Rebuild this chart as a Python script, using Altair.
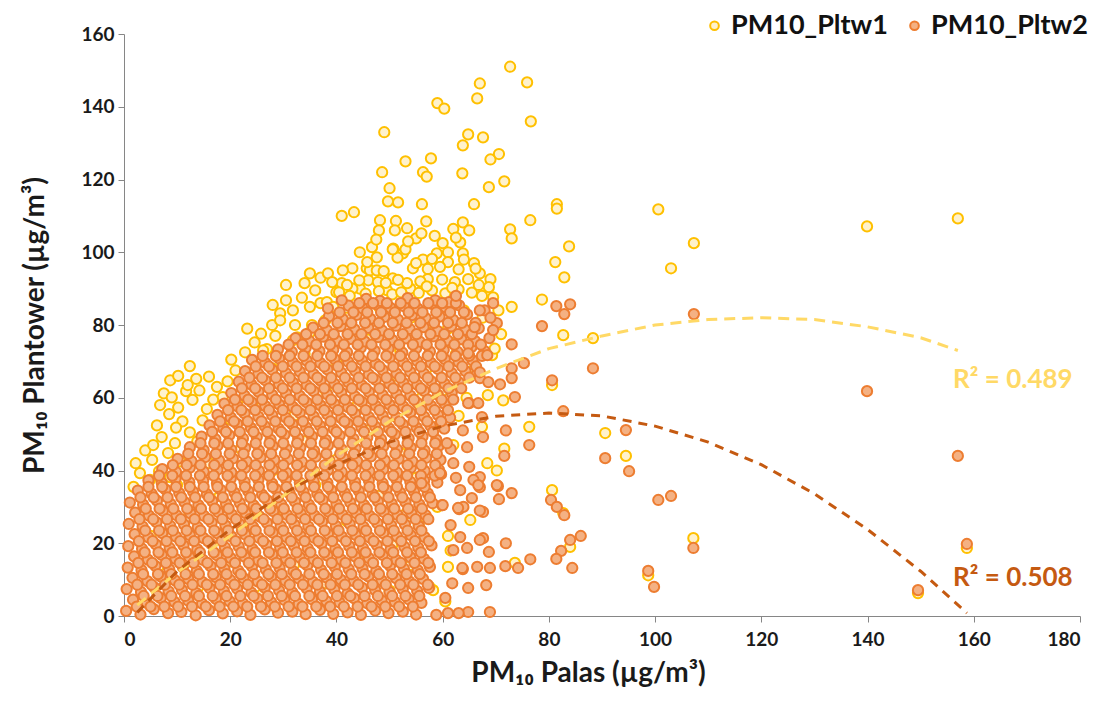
import altair as alt
import pandas as pd

# ---- scatter values (PM10 Palas, PM10 Plantower) ----
# PM10_Pltw2, dense cloud, one line per band of Plantower values
pltw2_rows = [
    ([0.4, 3.1, 5.6, 8.3, 10.8, 13.5, 16.0, 18.6, 21.3, 23.8, 26.5, 29.0, 31.7, 34.2, 36.9, 39.4, 42.1, 44.6, 47.3, 49.8, 52.5, 55.0],
     [1.4, 0.4, 1.9, 0.8, 1.1, 0.2, 1.6, 0.7, 1.3, 0.3, 1.8, 0.9, 1.2, 0.5, 1.7, 0.6, 1.0, 0.3, 1.5, 0.8, 1.2, 0.4]),
    ([1.7, 4.3, 6.9, 9.5, 12.1, 14.7, 17.3, 19.9, 22.4, 25.1, 27.7, 30.2, 32.9, 35.4, 38.1, 40.6, 43.3, 45.8, 48.5, 51.0, 53.6, 56.0],
     [4.5, 3.6, 4.9, 3.9, 4.2, 3.4, 4.7, 4.0, 3.5, 4.8, 3.8, 4.4, 3.3, 4.6, 4.1, 3.7, 4.9, 3.5, 4.3, 3.9, 4.6, 3.6]),
    ([0.5, 3.2, 5.7, 8.4, 10.9, 13.6, 16.1, 18.8, 21.3, 24.0, 26.5, 29.2, 31.7, 34.4, 36.9, 39.6, 42.1, 44.8, 47.3, 50.0, 52.5, 55.2, 57.4],
     [7.4, 6.6, 7.9, 6.8, 7.2, 6.3, 7.7, 6.9, 7.5, 6.4, 7.8, 7.0, 6.5, 7.6, 6.7, 7.3, 6.2, 7.8, 7.1, 6.6, 7.4, 6.9, 7.7]),
    ([1.6, 4.4, 6.9, 9.6, 12.1, 14.8, 17.3, 20.0, 22.5, 25.2, 27.7, 30.4, 32.9, 35.6, 38.1, 40.8, 43.3, 46.0, 48.5, 51.2, 53.7, 56.3],
     [10.5, 9.6, 10.9, 9.8, 10.2, 9.3, 10.7, 9.9, 10.4, 9.5, 10.8, 9.7, 10.3, 9.4, 10.6, 10.0, 9.6, 10.9, 9.8, 10.4, 9.5, 10.2]),
    ([0.7, 3.3, 5.9, 8.5, 11.1, 13.7, 16.3, 18.9, 21.5, 24.1, 26.7, 29.3, 31.9, 34.5, 37.1, 39.7, 42.3, 44.9, 47.5, 50.1, 52.7, 55.3, 57.6],
     [13.3, 12.6, 13.8, 12.9, 13.4, 12.4, 13.7, 13.0, 12.5, 13.6, 12.8, 13.2, 12.3, 13.9, 12.7, 13.5, 12.9, 13.1, 12.4, 13.8, 13.0, 12.6, 13.5]),
    ([1.9, 4.5, 7.1, 9.7, 12.3, 14.9, 17.5, 20.1, 22.7, 25.3, 27.9, 30.5, 33.1, 35.7, 38.3, 40.9, 43.5, 46.1, 48.7, 51.3, 53.9, 56.5],
     [16.4, 15.5, 16.8, 15.7, 16.2, 15.4, 16.7, 15.9, 16.3, 15.3, 16.9, 15.8, 16.1, 15.6, 16.6, 15.5, 16.4, 15.9, 16.8, 15.4, 16.2, 15.7]),
    ([0.8, 3.4, 6.0, 8.6, 11.2, 13.8, 16.4, 19.0, 21.6, 24.2, 26.8, 29.4, 32.0, 34.6, 37.2, 39.8, 42.4, 45.0, 47.6, 50.2, 52.8, 55.4, 57.9],
     [19.2, 18.5, 19.7, 18.7, 19.4, 18.3, 19.8, 18.9, 19.1, 18.4, 19.6, 18.8, 19.3, 18.6, 19.9, 18.5, 19.2, 18.7, 19.5, 18.3, 19.0, 18.8, 19.4]),
    ([2.0, 4.6, 7.2, 9.8, 12.4, 15.0, 17.6, 20.2, 22.8, 25.4, 28.0, 30.6, 33.2, 35.8, 38.4, 41.0, 43.6, 46.2, 48.8, 51.4, 54.0, 56.6],
     [22.5, 21.6, 22.8, 21.8, 22.2, 21.4, 22.7, 21.9, 22.4, 21.5, 22.9, 21.7, 22.1, 21.5, 22.6, 21.8, 22.3, 21.6, 22.8, 21.9, 22.2, 21.7]),
    ([0.9, 3.5, 6.1, 8.7, 11.3, 13.9, 16.5, 19.1, 21.7, 24.3, 26.9, 29.5, 32.1, 34.7, 37.3, 39.9, 42.5, 45.1, 47.7, 50.3, 52.9, 55.5],
     [25.3, 24.6, 25.8, 24.8, 25.2, 24.4, 25.7, 24.9, 25.4, 24.5, 25.6, 24.7, 25.1, 24.6, 25.9, 24.8, 25.3, 24.5, 25.5, 24.9, 25.2, 24.7]),
    ([2.1, 4.7, 7.3, 9.9, 12.5, 15.1, 17.7, 20.3, 22.9, 25.5, 28.1, 30.7, 33.3, 35.9, 38.5, 41.1, 43.7, 46.3, 48.9, 51.5, 54.1, 56.8],
     [28.4, 27.6, 28.9, 27.7, 28.2, 27.5, 28.6, 27.9, 28.3, 27.4, 28.8, 27.8, 28.1, 27.6, 28.7, 27.9, 28.3, 27.5, 28.6, 27.8, 28.2, 27.7]),
    ([1.1, 3.6, 6.2, 8.8, 11.4, 14.0, 16.6, 19.2, 21.8, 24.4, 27.0, 29.6, 32.2, 34.8, 37.4, 40.0, 42.6, 45.2, 47.8, 50.4, 53.0, 55.6, 58.1],
     [31.2, 30.6, 31.7, 30.8, 31.3, 30.5, 31.6, 30.9, 31.1, 30.4, 31.8, 30.7, 31.4, 30.6, 31.9, 30.8, 31.2, 30.5, 31.5, 30.9, 31.3, 30.7, 31.0]),
    ([2.6, 5.2, 7.8, 10.4, 13.0, 15.6, 18.2, 20.8, 23.4, 26.0, 28.6, 31.2, 33.8, 36.4, 39.0, 41.6, 44.2, 46.8, 49.4, 52.0, 54.6, 57.2],
     [34.5, 33.6, 34.8, 33.8, 34.2, 33.5, 34.7, 33.9, 34.3, 33.4, 34.9, 33.7, 34.1, 33.6, 34.6, 33.8, 34.4, 33.5, 34.7, 33.9, 34.2, 33.7]),
    ([4.6, 7.1, 9.7, 12.3, 14.9, 17.5, 20.1, 22.7, 25.3, 27.9, 30.5, 33.1, 35.7, 38.3, 40.9, 43.5, 46.1, 48.7, 51.3, 53.9, 56.5, 59.0],
     [37.3, 36.6, 37.7, 36.8, 37.2, 36.5, 37.8, 36.9, 37.4, 36.4, 37.6, 36.7, 37.1, 36.6, 37.9, 36.8, 37.3, 36.5, 37.5, 36.9, 37.2, 36.7]),
    ([7.2, 9.8, 12.4, 15.0, 17.6, 20.2, 22.8, 25.4, 28.0, 30.6, 33.2, 35.8, 38.4, 41.0, 43.6, 46.2, 48.8, 51.4, 54.0, 56.6, 59.3],
     [40.4, 39.6, 40.8, 39.7, 40.2, 39.5, 40.7, 39.9, 40.3, 39.4, 40.9, 39.8, 40.1, 39.6, 40.6, 39.8, 40.3, 39.5, 40.7, 39.9, 40.2]),
    ([10.1, 12.7, 15.3, 17.9, 20.5, 23.1, 25.7, 28.3, 30.9, 33.5, 36.1, 38.7, 41.3, 43.9, 46.5, 49.1, 51.7, 54.3, 56.9, 59.6],
     [43.2, 42.6, 43.7, 42.8, 43.3, 42.5, 43.6, 42.9, 43.1, 42.4, 43.8, 42.7, 43.4, 42.6, 43.9, 42.8, 43.2, 42.5, 43.5, 42.9]),
    ([12.4, 15.0, 17.6, 20.2, 22.8, 25.4, 28.0, 30.6, 33.2, 35.8, 38.4, 41.0, 43.6, 46.2, 48.8, 51.4, 54.0, 56.6, 59.2, 61.5],
     [46.4, 45.6, 46.8, 45.7, 46.2, 45.5, 46.7, 45.9, 46.3, 45.4, 46.9, 45.8, 46.1, 45.6, 46.6, 45.8, 46.3, 45.5, 46.7, 45.9]),
    ([14.6, 17.2, 19.8, 22.4, 25.0, 27.6, 30.2, 32.8, 35.4, 38.0, 40.6, 43.2, 45.8, 48.4, 51.0, 53.6, 56.2, 58.8],
     [49.3, 48.6, 49.7, 48.8, 49.2, 48.5, 49.8, 48.9, 49.4, 48.4, 49.6, 48.7, 49.1, 48.6, 49.9, 48.8, 49.3, 48.5]),
    ([16.1, 18.7, 21.3, 23.9, 26.5, 29.1, 31.7, 34.3, 36.9, 39.5, 42.1, 44.7, 47.3, 49.9, 52.5, 55.1, 57.7, 60.3],
     [52.4, 51.6, 52.8, 51.7, 52.2, 51.5, 52.7, 51.9, 52.3, 51.4, 52.9, 51.8, 52.1, 51.6, 52.6, 51.8, 52.3, 51.5]),
    ([17.6, 20.1, 22.7, 25.3, 27.9, 30.5, 33.1, 35.7, 38.3, 40.9, 43.5, 46.1, 48.7, 51.3, 53.9, 56.5, 59.1, 61.4],
     [55.3, 54.6, 55.7, 54.8, 55.2, 54.5, 55.8, 54.9, 55.4, 54.4, 55.6, 54.7, 55.1, 54.6, 55.9, 54.8, 55.3, 54.5]),
    ([18.9, 21.4, 24.0, 26.6, 29.2, 31.8, 34.4, 37.0, 39.6, 42.2, 44.8, 47.4, 50.0, 52.6, 55.2, 57.8, 60.4],
     [58.4, 57.6, 58.8, 57.7, 58.2, 57.5, 58.7, 57.9, 58.3, 57.4, 58.9, 57.8, 58.1, 57.6, 58.6, 57.8, 58.3]),
    ([20.2, 22.7, 25.3, 27.9, 30.5, 33.1, 35.7, 38.3, 40.9, 43.5, 46.1, 48.7, 51.3, 53.9, 56.5, 59.1, 61.7],
     [61.3, 60.6, 61.7, 60.8, 61.2, 60.5, 61.8, 60.9, 61.4, 60.4, 61.6, 60.7, 61.1, 60.6, 61.9, 60.8, 61.3]),
    ([21.6, 24.0, 26.6, 29.2, 31.8, 34.4, 37.0, 39.6, 42.2, 44.8, 47.4, 50.0, 52.6, 55.2, 57.8, 60.4, 63.0],
     [64.4, 63.6, 64.8, 63.7, 64.2, 63.5, 64.7, 63.9, 64.3, 63.4, 64.9, 63.8, 64.1, 63.6, 64.6, 63.8, 64.3]),
    ([22.8, 25.3, 27.9, 30.5, 33.1, 35.7, 38.3, 40.9, 43.5, 46.1, 48.7, 51.3, 53.9, 56.5, 59.1, 61.7, 64.3, 66.5],
     [67.3, 66.6, 67.7, 66.8, 67.2, 66.5, 67.8, 66.9, 67.4, 66.4, 67.6, 66.7, 67.1, 66.6, 67.9, 66.8, 67.3, 66.5]),
    ([24.1, 26.6, 29.2, 31.8, 34.4, 37.0, 39.6, 42.2, 44.8, 47.4, 50.0, 52.6, 55.2, 57.8, 60.4, 63.0, 65.6],
     [70.4, 69.6, 70.8, 69.7, 70.2, 69.5, 70.7, 69.9, 70.3, 69.4, 70.9, 69.8, 70.1, 69.6, 70.6, 69.8, 70.3]),
    ([29.0, 31.6, 34.2, 36.8, 39.4, 42.0, 44.6, 47.2, 49.8, 52.4, 55.0, 57.6, 60.2, 62.8, 65.4, 67.9],
     [73.3, 72.6, 73.7, 72.8, 73.2, 72.5, 73.8, 72.9, 73.4, 72.4, 73.6, 72.7, 73.1, 72.6, 73.9, 72.8]),
    ([32.3, 34.9, 37.5, 40.1, 42.7, 45.3, 47.9, 50.5, 53.1, 55.7, 58.3, 60.9, 63.5, 66.1],
     [76.4, 75.6, 76.8, 75.7, 76.2, 75.5, 76.7, 75.9, 76.3, 75.4, 76.9, 75.8, 76.1, 75.6]),
    ([35.6, 38.2, 40.8, 43.4, 46.0, 48.6, 51.2, 53.8, 56.4, 59.0, 61.6, 64.2, 66.8],
     [79.3, 78.6, 79.7, 78.8, 79.2, 78.5, 79.8, 78.9, 79.4, 78.4, 79.6, 78.7, 79.1]),
    ([38.6, 41.2, 43.8, 46.4, 49.0, 51.6, 54.2, 56.8, 59.4, 62.0, 64.6],
     [82.4, 81.6, 82.8, 81.7, 82.2, 81.5, 82.7, 81.9, 82.3, 81.4, 82.9]),
    ([42.3, 44.9, 47.5, 50.1, 52.7, 55.3, 57.9, 60.5, 63.1],
     [85.3, 84.6, 85.7, 84.8, 85.2, 84.5, 85.8, 84.9, 85.4]),
    ([45.6, 48.2, 53.4, 58.6, 61.2],
     [87.2, 86.6, 87.4, 86.8, 86.3]),
]

# PM10_Pltw2, the points that sit between the bands above (Plantower value, Palas values)
pltw2_between = [
    (2.6, [2.4, 5.0, 7.6, 10.2, 12.8, 15.4, 18.0, 20.6, 23.2, 25.8, 28.4, 31.0, 33.6, 36.2, 38.8, 41.4, 44.0, 46.6, 49.2, 51.8, 54.4]),
    (5.5, [3.7, 6.3, 8.9, 11.5, 14.1, 16.7, 19.3, 21.9, 24.4, 27.1, 29.7, 32.2, 34.9, 37.4, 40.1, 42.6, 45.3, 47.8, 50.5, 53.0, 55.6]),
    (8.6, [2.5, 5.2, 7.7, 10.4, 12.9, 15.6, 18.1, 20.8, 23.3, 26.0, 28.5, 31.2, 33.7, 36.4, 38.9, 41.6, 44.1, 46.8, 49.3, 52.0, 54.5, 57.2]),
    (11.5, [3.6, 6.4, 8.9, 11.6, 14.1, 16.8, 19.3, 22.0, 24.5, 27.2, 29.7, 32.4, 34.9, 37.6, 40.1, 42.8, 45.3, 48.0, 50.5, 53.2, 55.7]),
    (14.6, [2.7, 5.3, 7.9, 10.5, 13.1, 15.7, 18.3, 20.9, 23.5, 26.1, 28.7, 31.3, 33.9, 36.5, 39.1, 41.7, 44.3, 46.9, 49.5, 52.1, 54.7, 57.3]),
    (17.5, [3.9, 6.5, 9.1, 11.7, 14.3, 16.9, 19.5, 22.1, 24.7, 27.3, 29.9, 32.5, 35.1, 37.7, 40.3, 42.9, 45.5, 48.1, 50.7, 53.3, 55.9]),
    (20.6, [2.8, 5.4, 8.0, 10.6, 13.2, 15.8, 18.4, 21.0, 23.6, 26.2, 28.8, 31.4, 34.0, 36.6, 39.2, 41.8, 44.4, 47.0, 49.6, 52.2, 54.8, 57.4]),
    (23.5, [4.0, 6.6, 9.2, 11.8, 14.4, 17.0, 19.6, 22.2, 24.8, 27.4, 30.0, 32.6, 35.2, 37.8, 40.4, 43.0, 45.6, 48.2, 50.8, 53.4, 56.0]),
    (26.6, [2.9, 5.5, 8.1, 10.7, 13.3, 15.9, 18.5, 21.1, 23.7, 26.3, 28.9, 31.5, 34.1, 36.7, 39.3, 41.9, 44.5, 47.1, 49.7, 52.3, 54.9, 57.3]),
    (29.5, [4.1, 6.7, 9.3, 11.9, 14.5, 17.1, 19.7, 22.3, 24.9, 27.5, 30.1, 32.7, 35.3, 37.9, 40.5, 43.1, 45.7, 48.3, 50.9, 53.5, 56.1]),
    (32.6, [3.1, 5.6, 8.2, 10.8, 13.4, 16.0, 18.6, 21.2, 23.8, 26.4, 29.0, 31.6, 34.2, 36.8, 39.4, 42.0, 44.6, 47.2, 49.8, 52.4, 55.0, 57.6]),
    (35.5, [4.6, 7.2, 9.8, 12.4, 15.0, 17.6, 20.2, 22.8, 25.4, 28.0, 30.6, 33.2, 35.8, 38.4, 41.0, 43.6, 46.2, 48.8, 51.4, 54.0, 56.6]),
    (38.6, [6.6, 9.1, 11.7, 14.3, 16.9, 19.5, 22.1, 24.7, 27.3, 29.9, 32.5, 35.1, 37.7, 40.3, 42.9, 45.5, 48.1, 50.7, 53.3, 55.9, 58.5]),
    (41.5, [9.2, 11.8, 14.4, 17.0, 19.6, 22.2, 24.8, 27.4, 30.0, 32.6, 35.2, 37.8, 40.4, 43.0, 45.6, 48.2, 50.8, 53.4, 56.0, 58.6]),
    (44.6, [12.1, 14.7, 17.3, 19.9, 22.5, 25.1, 27.7, 30.3, 32.9, 35.5, 38.1, 40.7, 43.3, 45.9, 48.5, 51.1, 53.7, 56.3, 58.9]),
    (47.5, [14.4, 17.0, 19.6, 22.2, 24.8, 27.4, 30.0, 32.6, 35.2, 37.8, 40.4, 43.0, 45.6, 48.2, 50.8, 53.4, 56.0, 58.6, 60.8]),
    (50.6, [16.6, 19.2, 21.8, 24.4, 27.0, 29.6, 32.2, 34.8, 37.4, 40.0, 42.6, 45.2, 47.8, 50.4, 53.0, 55.6, 58.2]),
    (53.5, [18.1, 20.7, 23.3, 25.9, 28.5, 31.1, 33.7, 36.3, 38.9, 41.5, 44.1, 46.7, 49.3, 51.9, 54.5, 57.1, 59.7]),
    (56.6, [19.6, 22.1, 24.7, 27.3, 29.9, 32.5, 35.1, 37.7, 40.3, 42.9, 45.5, 48.1, 50.7, 53.3, 55.9, 58.5, 61.0]),
    (59.5, [20.9, 23.4, 26.0, 28.6, 31.2, 33.8, 36.4, 39.0, 41.6, 44.2, 46.8, 49.4, 52.0, 54.6, 57.2, 59.8, 62.0]),
    (62.6, [22.2, 24.7, 27.3, 29.9, 32.5, 35.1, 37.7, 40.3, 42.9, 45.5, 48.1, 50.7, 53.3, 55.9, 58.5, 61.1, 63.5]),
    (65.5, [23.6, 26.0, 28.6, 31.2, 33.8, 36.4, 39.0, 41.6, 44.2, 46.8, 49.4, 52.0, 54.6, 57.2, 59.8, 62.4, 65.0]),
    (68.6, [24.8, 27.3, 29.9, 32.5, 35.1, 37.7, 40.3, 42.9, 45.5, 48.1, 50.7, 53.3, 55.9, 58.5, 61.1, 63.7, 66.3]),
    (71.5, [26.1, 28.6, 31.2, 33.8, 36.4, 39.0, 41.6, 44.2, 46.8, 49.4, 52.0, 54.6, 57.2, 59.8, 62.4, 65.0, 67.4]),
    (74.6, [31.0, 33.6, 36.2, 38.8, 41.4, 44.0, 46.6, 49.2, 51.8, 54.4, 57.0, 59.6, 62.2, 64.8, 67.2]),
    (77.5, [34.3, 36.9, 39.5, 42.1, 44.7, 47.3, 49.9, 52.5, 55.1, 57.7, 60.3, 62.9, 65.5]),
    (80.6, [37.6, 40.2, 42.8, 45.4, 48.0, 50.6, 53.2, 55.8, 58.4, 61.0, 63.6, 66.2]),
    (83.5, [40.6, 43.2, 45.8, 48.4, 51.0, 53.6, 56.2, 58.8, 61.4, 64.0]),
    (86.0, [44.3, 46.9, 49.5, 52.1, 54.7, 57.3, 59.9, 62.5]),
]

# PM10_Pltw2, scattered points around and outside the cloud
pltw2_sparse = [
    (81.4, 85.2), (84.0, 85.7), (82.9, 83.0), (78.7, 79.7), (73.0, 74.7), (75.3, 69.5),
    (73.0, 68.1), (73.0, 65.4), (70.8, 63.7), (73.6, 60.2), (88.3, 68.1), (80.6, 64.8),
    (82.7, 56.3), (71.9, 51.0), (76.3, 47.0), (71.6, 44.0), (94.5, 51.1), (90.6, 43.4),
    (95.1, 39.8), (59.7, 39.0), (67.0, 38.2), (70.4, 35.7), (73.0, 33.8), (70.6, 32.1),
    (80.4, 31.9), (81.5, 30.0), (82.9, 27.7), (59.9, 30.5), (67.6, 28.6), (63.1, 29.4),
    (86.0, 22.0), (84.0, 20.9), (71.9, 20.0), (68.7, 17.6), (82.3, 17.9), (81.4, 15.7),
    (76.5, 15.6), (74.2, 13.2), (71.8, 13.7), (84.4, 13.2), (68.9, 13.2), (63.8, 12.9),
    (68.2, 8.5), (64.8, 7.7), (68.9, 1.1), (64.8, 1.1), (63.0, 0.8), (61.0, 0.8),
    (58.8, 0.3), (98.7, 12.4), (99.8, 8.0), (100.6, 31.9), (103.0, 33.0), (107.3, 83.0),
    (107.2, 18.7), (139.9, 61.8), (149.5, 7.1), (157.0, 44.0), (158.7, 19.8),
    (68.4, 71.7), (67.0, 65.4), (65.0, 58.5), (67.6, 49.2), (65.0, 41.0), (65.8, 37.4),
    (67.0, 35.4), (63.3, 34.6), (63.9, 30.0), (67.0, 29.0), (63.3, 21.7), (67.6, 21.4),
    (66.5, 13.5), (63.7, 13.2), (56.0, 36.5), (60.0, 30.5), (59.5, 39.3), (69.5, 86.0),
    (70.2, 80.5), (68.8, 76.4), (67.9, 84.0), (62.5, 88.0), (41.0, 86.8), (38.4, 84.6),
    (67.0, 84.0), (69.0, 82.0), (69.5, 78.6), (66.0, 79.4), (64.8, 72.2), (68.6, 64.3),
    (67.0, 67.0), (66.7, 58.5), (64.8, 58.5), (67.4, 54.7), (63.8, 51.0), (64.6, 46.4),
    (66.7, 36.0), (70.2, 36.0), (65.5, 32.4), (62.9, 29.7), (67.0, 20.9), (64.6, 18.7),
    (62.0, 18.1), (61.5, 25.0), (62.0, 42.0), (62.5, 38.0), (61.8, 9.0), (60.5, 5.0),
]

# PM10_Pltw1
pltw1_points = [
    # left band above the Pltw2 cloud
    (1.8, 35.5), (3.0, 39.3), (4.9, 37.4), (6.6, 39.8), (8.7, 38.2), (2.2, 42.0), (5.3, 42.9),
    (8.3, 44.8), (10.6, 42.5), (4.0, 45.5), (7.1, 49.2), (9.6, 47.5), (12.4, 50.5), (6.2, 52.4),
    (11.0, 53.5), (13.8, 48.0), (8.5, 55.5), (6.8, 58.0), (10.2, 57.3), (12.9, 59.4), (15.6, 56.9),
    (7.5, 61.2), (9.0, 60.1), (11.7, 61.8), (14.2, 62.0), (8.7, 64.8), (12.0, 63.5), (12.4, 68.7),
    (10.2, 66.0), (16.8, 59.5), (18.6, 60.2), (21.3, 58.8), (19.5, 64.5), (21.0, 67.5),
    (22.8, 72.5), (23.2, 79.0), (24.6, 75.2), (26.9, 73.4), (26.2, 73.0), (27.9, 80.0),
    (25.8, 77.6), (29.4, 83.2), (29.4, 81.3), (32.2, 80.0), (31.8, 84.0), (31.8, 75.8),
    (32.6, 76.6), (35.4, 80.0), (35.0, 78.0), (28.5, 77.0), (30.5, 86.8), (28.0, 85.5),
    (33.5, 87.5), (35.0, 85.0), (37.0, 86.0), (38.2, 86.3), (39.4, 85.0), (37.9, 81.3),
    (40.0, 89.0), (44.4, 90.0), (41.0, 91.5), (43.0, 90.0), (36.0, 89.5), (34.0, 91.5),
    (37.0, 93.0), (30.5, 91.0), (35.0, 94.2), (38.4, 94.2), (5.5, 47.0), (9.8, 51.8),
    (14.8, 53.8), (17.5, 63.0), (20.2, 70.5), (16.0, 65.8), (13.6, 65.2),
    # upper band and top envelope
    (42.0, 91.0), (43.0, 95.6), (45.7, 95.6), (46.3, 95.0), (47.6, 95.0), (46.0, 92.3),
    (47.8, 91.8), (49.5, 89.6), (53.9, 90.0), (50.6, 92.8), (53.3, 91.5), (54.4, 95.6),
    (50.7, 101.0), (52.5, 99.7), (51.5, 98.5), (44.4, 100.0), (46.7, 101.4), (45.8, 97.3),
    (47.6, 98.6), (48.2, 108.8), (51.2, 108.6), (48.0, 106.0), (51.0, 106.0), (53.3, 106.6),
    (41.0, 110.0), (43.3, 111.0), (48.6, 122.0), (53.0, 125.0), (50.0, 117.6), (49.7, 114.0),
    (72.7, 151.0), (75.9, 146.7), (67.0, 146.4), (66.5, 142.3), (59.0, 141.0), (60.3, 139.5),
    (76.6, 136.0), (49.0, 133.0), (64.8, 132.4), (67.6, 131.6), (63.8, 129.4), (57.8, 125.8),
    (69.0, 125.5), (70.6, 127.0), (56.3, 122.0), (57.0, 120.8), (63.7, 121.7), (68.7, 117.9),
    (71.6, 119.5), (51.6, 113.7), (56.1, 113.2), (65.9, 113.2), (81.5, 113.2), (81.5, 112.0),
    (56.9, 108.5), (63.8, 108.2), (62.0, 106.4), (65.0, 106.0), (72.7, 106.3), (73.0, 103.8),
    (76.5, 108.8), (83.8, 101.6), (81.2, 97.3), (82.9, 93.1), (78.7, 87.0), (73.0, 85.0),
    (55.0, 103.8), (56.0, 105.2), (63.3, 102.7), (50.6, 100.8), (53.0, 100.8), (56.3, 98.0),
    (58.9, 99.7), (61.0, 100.0), (63.8, 99.7), (65.9, 97.0), (57.2, 92.6), (61.0, 97.3),
    (63.0, 95.3), (67.0, 94.2), (69.0, 92.6), (68.7, 90.4), (69.5, 87.6), (67.4, 88.0),
    (40.5, 89.0), (45.5, 88.6), (48.0, 89.3), (50.5, 88.4), (55.5, 88.8), (58.0, 89.5),
    (60.5, 88.7), (63.0, 89.8), (65.5, 88.9), (44.3, 92.3), (49.3, 91.6), (51.6, 92.4),
    (55.8, 92.0), (59.9, 92.5), (62.3, 91.8), (64.8, 92.6), (41.2, 95.0), (48.9, 94.8),
    (57.2, 95.4), (59.5, 96.0), (66.2, 95.5), (58.0, 98.2), (60.0, 102.5), (42.5, 88.0),
    (52.2, 89.0), (57.0, 90.6), (61.8, 90.2), (66.8, 91.0), (39.2, 91.8), (55.0, 97.0),
    (64.0, 98.0), (47.5, 103.5), (53.5, 103.0), (58.5, 104.5), (62.5, 104.0),
    # right side and outliers
    (82.7, 77.2), (88.3, 76.4), (80.6, 63.5), (71.4, 59.3), (76.3, 52.0), (71.6, 46.0),
    (90.6, 50.3), (94.5, 44.0), (80.6, 34.6), (82.7, 28.3), (84.0, 19.0), (73.6, 14.6),
    (98.7, 11.2), (100.6, 111.8), (107.3, 102.5), (103.0, 95.6), (139.9, 107.1), (157.0, 109.3),
    (107.2, 21.4), (149.5, 6.3), (158.7, 18.7), (69.3, 71.7), (68.5, 60.7), (67.4, 52.0),
    (70.2, 40.0), (68.4, 42.0), (65.2, 26.4), (50.5, 19.5), (58.2, 7.1), (61.0, 13.5),
    (70.5, 84.0), (71.0, 77.5), (69.8, 73.5), (66.0, 68.0), (62.5, 72.0), (64.0, 76.0),
    (56.5, 45.0), (58.0, 52.0), (55.5, 25.0), (61.5, 18.0), (57.5, 8.0), (60.5, 4.0),
    (62.0, 47.0), (63.0, 55.0), (64.5, 60.0), (60.0, 62.0), (61.0, 79.0), (67.5, 82.0),
    # under the Pltw2 cloud
    (3.0, 5.0), (8.0, 12.0), (14.0, 8.0), (20.0, 15.0), (26.0, 6.0), (32.0, 14.0), (38.0, 9.0),
    (44.0, 16.0), (50.0, 7.0), (54.0, 14.0), (5.0, 22.0), (12.0, 27.0), (18.0, 33.0),
    (24.0, 24.0), (30.0, 29.0), (36.0, 36.0), (42.0, 26.0), (48.0, 33.0), (53.0, 28.0),
    (10.0, 36.0), (16.0, 42.0), (22.0, 46.0), (28.0, 40.0), (34.0, 48.0), (40.0, 43.0),
    (46.0, 51.0), (52.0, 45.0), (20.0, 54.0), (26.0, 58.0), (32.0, 55.0), (38.0, 62.0),
    (44.0, 58.0), (50.0, 64.0), (56.0, 60.0), (28.0, 68.0), (34.0, 72.0), (40.0, 70.0),
    (46.0, 76.0), (52.0, 73.0), (58.0, 78.0), (42.0, 82.0), (48.0, 85.0), (54.0, 82.0),
    (60.0, 86.0), (64.0, 84.0), (57.0, 68.0), (62.0, 75.0), (59.0, 30.0), (61.0, 22.0),
    (55.0, 38.0),
]

# polynomial trend lines
trend1_x = [2.5, 10, 20, 30, 40, 50, 60, 70, 80, 90, 100, 110, 120, 130, 140, 150, 157]
trend1_y = [3.0, 12.0, 22.0, 33.0, 44.0, 53.5, 61.5, 68.0, 73.5, 77.0, 80.0, 81.5, 82.0, 81.5, 79.5, 76.5, 73.0]
trend2_x = [2.5, 10, 20, 30, 40, 50, 60, 70, 80, 90, 100, 110, 120, 130, 140, 150, 158.7]
trend2_y = [1.0, 12.3, 23.8, 33.6, 41.6, 47.8, 52.2, 54.9, 55.8, 55.0, 52.2, 47.8, 41.6, 33.6, 23.8, 12.3, 0.8]

r2_labels = ["R² = 0.489", "R² = 0.508"]
r2_x = [156.1, 156.1]
r2_y = [64.8, 10.4]

series = ["PM10_Pltw1", "PM10_Pltw2"]
fills = ["#FFF2CC", "#F4B183"]
strokes = ["#FFC000", "#ED7D31"]
trend_colors = ["#FFD966", "#C55A11"]

x_ticks = [0, 20, 40, 60, 80, 100, 120, 140, 160, 180]
y_ticks = [0, 20, 40, 60, 80, 100, 120, 140, 160]

FONT = "Lato"

pltw2_points = (
    [p for xs, ys in pltw2_rows for p in zip(xs, ys)]
    + [(x, y) for y, xs in pltw2_between for x in xs]
    + pltw2_sparse
)

df_pts = pd.concat([
    pd.DataFrame(pltw1_points, columns=["palas", "pltw"]).assign(serie=series[0]),
    pd.DataFrame(pltw2_points, columns=["palas", "pltw"]).assign(serie=series[1]),
], ignore_index=True)

df_t1 = pd.DataFrame({"palas": trend1_x, "pltw": trend1_y})
df_t2 = pd.DataFrame({"palas": trend2_x, "pltw": trend2_y})
df_r2 = pd.DataFrame({"palas": r2_x, "pltw": r2_y, "label": r2_labels, "cor": trend_colors})

x_enc = alt.X(
    "palas:Q",
    scale=alt.Scale(domain=[0, 180], nice=False),
    axis=alt.Axis(values=x_ticks, title="PM₁₀ Palas (µg/m³)", titlePadding=10,
                  labelPadding=8, titleX=464),
)
y_enc = alt.Y(
    "pltw:Q",
    scale=alt.Scale(domain=[0, 160], nice=False),
    axis=alt.Axis(values=y_ticks, title="PM₁₀ Plantower (µg/m³)", titlePadding=31, labelPadding=4),
)

pontos = alt.Chart(df_pts).mark_circle(size=105, strokeWidth=2, opacity=1).encode(
    x=x_enc,
    y=y_enc,
    fill=alt.Fill("serie:N", scale=alt.Scale(domain=series, range=fills),
                  legend=alt.Legend(
                      orient="none", legendX=577, legendY=-22, direction="horizontal",
                      title=None, labelFont=FONT, labelFontSize=27, labelFontWeight="bold",
                      labelColor="#111111", symbolSize=75, symbolStrokeWidth=2,
                      labelOffset=3, columnPadding=13,
                  )),
    stroke=alt.Stroke("serie:N", scale=alt.Scale(domain=series, range=strokes)),
)

linha1 = alt.Chart(df_t1).mark_line(
    color=trend_colors[0], strokeWidth=3, strokeDash=[11, 7]
).encode(x="palas:Q", y="pltw:Q")

linha2 = alt.Chart(df_t2).mark_line(
    color=trend_colors[1], strokeWidth=3, strokeDash=[9, 7]
).encode(x="palas:Q", y="pltw:Q")

textos = alt.Chart(df_r2).mark_text(
    align="left", baseline="middle", font=FONT, fontSize=26, fontWeight="bold"
).encode(
    x="palas:Q",
    y="pltw:Q",
    text="label:N",
    color=alt.Color("cor:N", scale=None),
)

chart = alt.layer(pontos, linha1, linha2, textos).properties(
    width=956,
    height=582,
    autosize=alt.AutoSizeParams(type="none"),
    padding={"left": 116, "top": 26, "right": 20, "bottom": 78},
).configure_view(
    stroke=None
).configure_axis(
    grid=False,
    domainColor="#868686",
    tickColor="#868686",
    tickSize=6,
    labelFont=FONT,
    labelFontSize=19,
    labelFontWeight="bold",
    labelColor="#1a1a1a",
    titleFont=FONT,
    titleFontSize=28,
    titleFontWeight="bold",
    titleColor="#1a1a1a",
)

chart.save("out.html", embed_options={"renderer": "svg", "actions": False})
